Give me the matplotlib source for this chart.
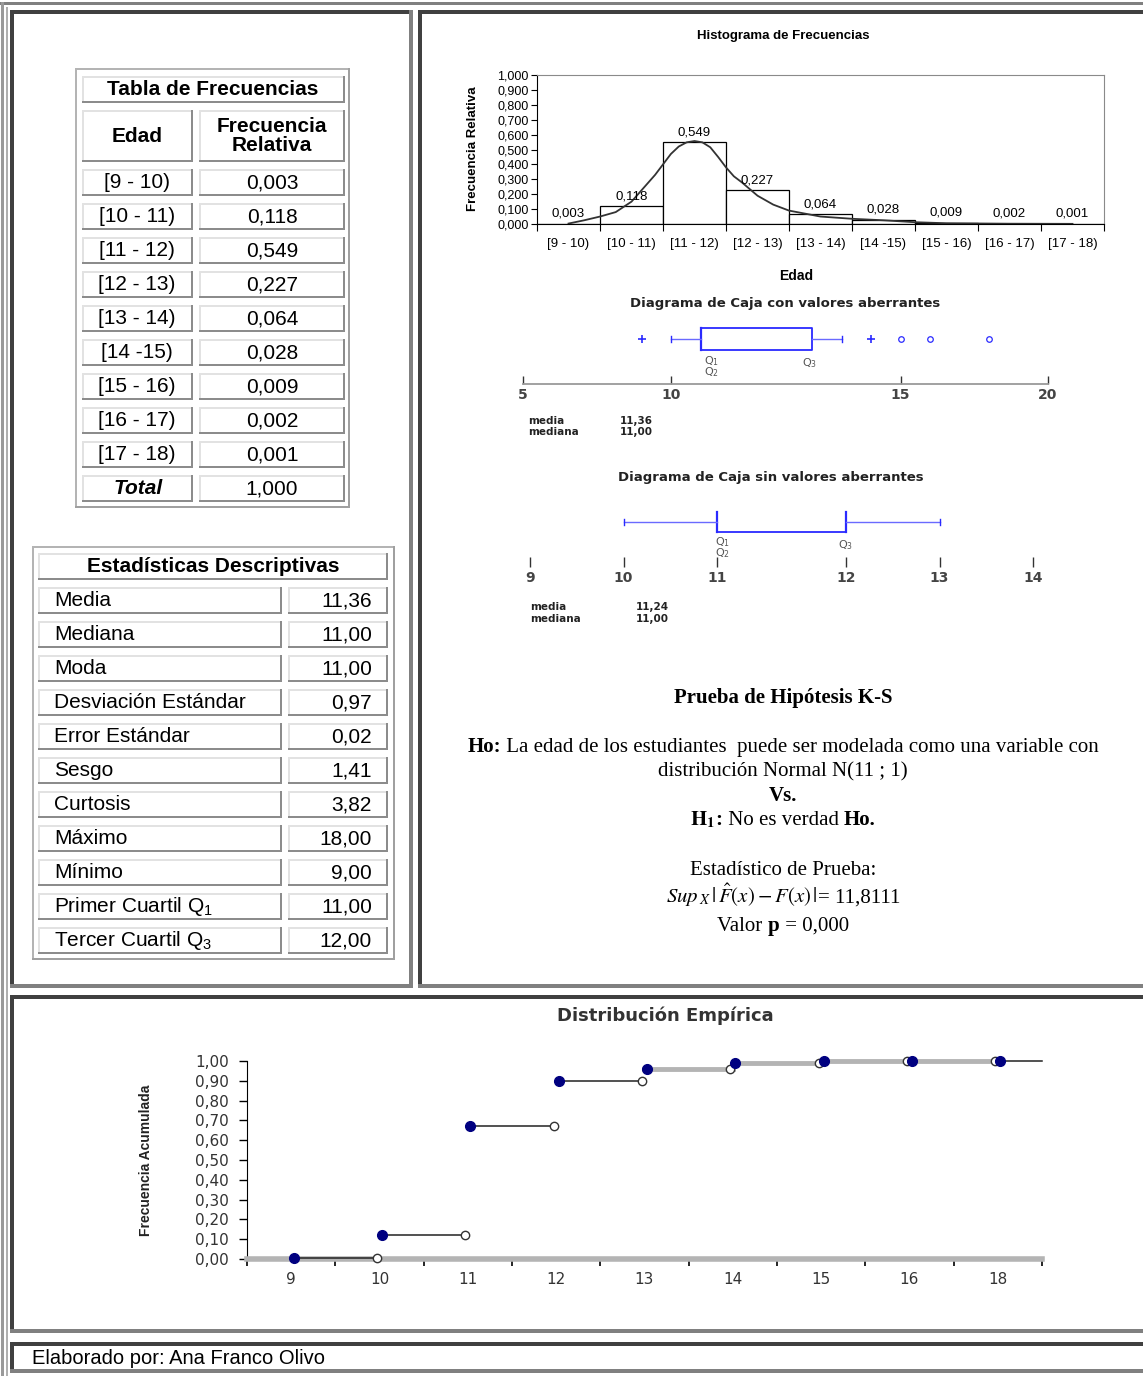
import matplotlib
matplotlib.use('Agg')
import matplotlib.pyplot as plt
from matplotlib.patches import Rectangle
from matplotlib import font_manager as fm
import numpy as np

W, H = 1143, 1376

# ---------------- data ----------------
edad_labels = ["[9 - 10)", "[10 - 11)", "[11 - 12)", "[12 - 13)", "[13 - 14)",
               "[14 -15)", "[15 - 16)", "[16 - 17)", "[17 - 18)"]
frec_rel = [0.003, 0.118, 0.549, 0.227, 0.064, 0.028, 0.009, 0.002, 0.001]
frec_total = 1.000

stat_names = ["Media", "Mediana", "Moda", "Desviación Estándar", "Error Estándar",
              "Sesgo", "Curtosis", "Máximo", "Mínimo",
              r"Primer Cuartil $\mathrm{Q}_1$", r"Tercer Cuartil $\mathrm{Q}_3$"]
stat_values = [11.36, 11.00, 11.00, 0.97, 0.02, 1.41, 3.82, 18.00, 9.00, 11.00, 12.00]

# smoothed curve over the histogram (category units)
curve_x = [0.5, 0.75, 1.0, 1.25, 1.5, 1.75, 1.875, 2.0, 2.125, 2.25, 2.375, 2.5,
           2.625, 2.75, 2.875, 3.0, 3.125, 3.25, 3.5, 3.75, 4.0, 4.5, 5.0, 5.5,
           6.0, 6.5, 7.5, 8.5]
curve_y = [0.003, 0.025, 0.05, 0.08, 0.15, 0.27, 0.33, 0.40, 0.47, 0.52, 0.548, 0.557,
           0.548, 0.515, 0.45, 0.38, 0.32, 0.28, 0.19, 0.13, 0.09, 0.05, 0.035, 0.025,
           0.012, 0.005, 0.002, 0.001]

# box plot with outliers
box1_q1, box1_med, box1_q3 = 11, 11, 12
box1_whis = [10, 13]
box1_mild = [9, 14]
box1_extreme = [15, 16, 18]
box1_media, box1_mediana = 11.36, 11.00

# box plot without outliers
box2_q1, box2_q3 = 11, 12
box2_whis = [10, 13]
box2_media, box2_mediana = 11.24, 11.00

# empirical distribution
ecdf_labels = ["9", "10", "11", "12", "13", "14", "15", "16", "18"]
ecdf_cum = [0.003, 0.121, 0.670, 0.897, 0.961, 0.989, 0.998, 1.000, 1.000]

ks_stat = "11,8111"
ks_p = "0,000"


def coma(v, d):
    return f"{v:.{d}f}".replace('.', ',')


def has_font(name):
    try:
        fm.findfont(fm.FontProperties(family=name), fallback_to_default=False)
        return True
    except ValueError:
        return False


NARROW = 'Liberation Sans Narrow' if has_font('Liberation Sans Narrow') else 'Liberation Sans'
WIDE = 'DejaVu Sans'

plt.rcParams['font.family'] = ['Liberation Sans', 'DejaVu Sans']
plt.rcParams['mathtext.fontset'] = 'custom'
plt.rcParams['mathtext.rm'] = 'Liberation Sans'
plt.rcParams['mathtext.it'] = 'Liberation Sans:italic'
plt.rcParams['mathtext.bf'] = 'Liberation Sans:bold'

DARK = '#404040'
GRAY = '#808080'
BLUE = '#2a2aff'
NAVY = '#000080'

fig = plt.figure(figsize=(W / 100, H / 100), dpi=100)
bg = fig.add_axes([0, 0, 1, 1])
bg.set_xlim(0, W)
bg.set_ylim(H, 0)
bg.axis('off')


def px_axes(x0, y0, x1, y1):
    a = fig.add_axes([x0 / W, 1 - y1 / H, (x1 - x0) / W, (y1 - y0) / H])
    a.set_facecolor('none')
    return a


def band(x0, y0, x1, y1, color):
    bg.add_patch(Rectangle((x0, y0), x1 - x0, y1 - y0, facecolor=color, edgecolor='none', lw=0))


def bevel(x0, y0, x1, y1, tl, br, t):
    band(x0, y0, x1, y0 + t, tl)
    band(x0, y0, x0 + t, y1, tl)
    band(x0, y1 - t, x1, y1, br)
    band(x1 - t, y0, x1, y1, br)


def cell(x0, y0, x1, y1):
    bevel(x0, y0, x1, y1, '#e2e2e2', '#8c8c8c', 2)


def rich(cx, y, parts, size, family='Liberation Serif'):
    # several text pieces on one baseline, centred on cx
    r = fig.canvas.get_renderer()
    items = []
    x = 0.0
    for s, kw in parts:
        t = bg.text(0, y, s, ha='left', va='baseline', fontsize=size, family=family, **kw)
        items.append((t, x))
        x += t.get_window_extent(r).width
    start = cx - x / 2
    for t, off in items:
        t.set_x(start + off)


def stretch_scale(vals, pos):
    vals = list(vals)
    pos = list(pos)
    s0 = (pos[1] - pos[0]) / (vals[1] - vals[0])
    s1 = (pos[-1] - pos[-2]) / (vals[-1] - vals[-2])
    vals = [vals[0] - 1000] + vals + [vals[-1] + 1000]
    pos = [pos[0] - 1000 * s0] + pos + [pos[-1] + 1000 * s1]
    return (lambda x: np.interp(x, vals, pos)), (lambda p: np.interp(p, pos, vals))


# ---------------- panel frames ----------------
band(0, 2, W, 5, GRAY)
band(1, 2, 4, H, '#9a9a9a')
band(6, 7, 8, H, '#b0b0b0')
bevel(10, 10, 413, 988, DARK, GRAY, 4)
bevel(418, 10, W + 10, 988, DARK, GRAY, 4)
bevel(10, 995, W + 10, 1333, DARK, GRAY, 4)
bevel(10, 1342, W + 10, 1373, DARK, GRAY, 4)

# ---------------- frequency table ----------------
bevel(75, 68, 350, 508, '#b4b4b4', '#a0a0a0', 2)
cell(82, 76, 345, 103)
bg.text(213, 89.5, "Tabla de Frecuencias", ha='center', va='center', fontsize=15, weight='bold')
cell(82, 110, 193, 162)
cell(199, 110, 345, 162)
bg.text(137, 136, "Edad", ha='center', va='center', fontsize=15, weight='bold')
bg.text(272, 136, "Frecuencia\nRelativa", ha='center', va='center', fontsize=15,
        weight='bold', linespacing=1.05)
rows = list(zip(edad_labels, [coma(v, 3) for v in frec_rel])) + [("Total", coma(frec_total, 3))]
for i, (lab, val) in enumerate(rows):
    y0 = 169 + 34 * i
    cell(82, y0, 193, y0 + 27)
    cell(199, y0, 345, y0 + 27)
    if lab == "Total":
        bg.text(138, y0 + 14, lab, ha='center', va='center', fontsize=15, weight='bold', style='italic')
    else:
        bg.text(137, y0 + 14, lab, ha='center', va='center', fontsize=15)
    bg.text(272, y0 + 14, val, ha='center', va='center', fontsize=15)

# ---------------- descriptive stats table ----------------
bevel(32, 546, 395, 960, '#b4b4b4', '#a0a0a0', 2)
cell(38, 553, 388, 580)
bg.text(213, 567, "Estadísticas Descriptivas", ha='center', va='center', fontsize=15, weight='bold')
for i, (name, val) in enumerate(zip(stat_names, stat_values)):
    y0 = 587 + 34 * i
    cell(38, y0, 282, y0 + 27)
    cell(288, y0, 388, y0 + 27)
    bg.text(54, y0 + 14, name, ha='left', va='center', fontsize=15)
    bg.text(372, y0 + 14, coma(val, 2), ha='right', va='center', fontsize=15)

# ---------------- histogram ----------------
bg.text(783, 36, "Histograma de Frecuencias", ha='center', va='center', fontsize=9.5,
        weight='bold', family=NARROW)
bg.text(473, 149, "Frecuencia Relativa", ha='center', va='center', rotation=90,
        fontsize=9.5, weight='bold', family='Liberation Sans')
bg.text(796, 276, "Edad", ha='center', va='center', fontsize=10, weight='bold', family=NARROW)

axh = px_axes(537, 75, 1104, 224)
pos = np.arange(len(frec_rel)) + 0.5
axh.bar(pos, frec_rel, width=1.0, facecolor='white', edgecolor='black', linewidth=0.9)
axh.plot(curve_x, curve_y, color='#333333', lw=1.3)
for x, v in zip(pos, frec_rel):
    axh.annotate(coma(v, 3), (x, v), xytext=(0, 3), textcoords='offset points',
                 ha='center', va='bottom', fontsize=9.5, family=NARROW)
axh.set_xlim(0, len(frec_rel))
axh.set_ylim(0, 1)
axh.set_yticks(np.arange(0, 1.01, 0.1))
axh.set_yticklabels([coma(v, 3) for v in np.arange(0, 1.01, 0.1)], fontsize=9, family=NARROW)
axh.set_xticks(np.arange(0, len(frec_rel) + 1))
axh.set_xticklabels([])
axh.set_xticks(pos, minor=True)
axh.set_xticklabels(edad_labels, minor=True, fontsize=9.5, family=NARROW)
axh.tick_params(axis='x', which='major', direction='out', length=5, width=0.8)
axh.tick_params(axis='x', which='minor', length=0, pad=10)
axh.tick_params(axis='y', direction='out', length=4, width=0.8, pad=2)
for s in ['top', 'right']:
    axh.spines[s].set_color('#8a8a8a')
for s in ['left', 'bottom']:
    axh.spines[s].set_color('black')

# ---------------- box plot with outliers ----------------
bg.text(785, 303, "Diagrama de Caja con valores aberrantes", ha='center', va='center',
        fontsize=9.5, weight='bold', family=WIDE, color='#222222')
ax1 = px_axes(523, 294, 1048, 384)
f1, i1 = stretch_scale([5, 11, 12, 20], [0, 178, 289, 525])
ax1.set_xscale('function', functions=(f1, i1))
ax1.set_xlim(5, 20)
ax1.set_ylim(-1, 1)
h1 = 0.236
ax1.plot([box1_q1, box1_q3, box1_q3, box1_q1, box1_q1], [-h1, -h1, h1, h1, -h1], color=BLUE, lw=1.3)
ax1.plot([box1_med, box1_med], [-h1, h1], color=BLUE, lw=1.6)
ax1.plot([box1_whis[0], box1_q1], [0, 0], color='#6a6aff', lw=1.0)
ax1.plot([box1_q3, box1_whis[1]], [0, 0], color='#6a6aff', lw=1.0)
for w in box1_whis:
    ax1.plot([w, w], [-0.07, 0.07], color=BLUE, lw=1.0)
ax1.plot(box1_mild, [0] * len(box1_mild), '+', color=BLUE, ms=6, mew=1.2, clip_on=False)
ax1.plot(box1_extreme, [0] * len(box1_extreme), 'o', mfc='none', mec=BLUE, ms=4, mew=0.9, clip_on=False)
qkw = dict(textcoords='offset points', va='top', fontsize=8, color='#555555', family=WIDE,
           math_fontfamily='dejavusans')
ax1.annotate(r"Q$_1$", (box1_q1, -h1), xytext=(2, -3), ha='left', **qkw)
ax1.annotate(r"Q$_2$", (box1_q1, -h1), xytext=(2, -11), ha='left', **qkw)
ax1.annotate(r"Q$_3$", (box1_q3, -h1), xytext=(-2, -4.5), ha='center', **qkw)
ax1.set_xticks([5, 10, 15, 20])
ax1.set_xticklabels(["5", "10", "15", "20"], fontsize=10, family=WIDE, weight='bold', color='#444444')
ax1.tick_params(axis='x', direction='in', length=6, width=1.0, color='#333333', pad=3)
ax1.set_yticks([])
for s in ['left', 'top', 'right']:
    ax1.spines[s].set_visible(False)
ax1.spines['bottom'].set_color('#9a9a9a')
ax1.spines['bottom'].set_linewidth(1.3)
mkw = dict(ha='left', va='center', fontsize=7.5, weight='bold', family=WIDE, color='#222222')
bg.text(528, 421, "media", **mkw)
bg.text(528, 432, "mediana", **mkw)
bg.text(620, 421, coma(box1_media, 2), **mkw)
bg.text(620, 432, coma(box1_mediana, 2), **mkw)

# ---------------- box plot without outliers ----------------
bg.text(771, 478, "Diagrama de Caja sin valores aberrantes", ha='center', va='center',
        fontsize=9.5, weight='bold', family=WIDE, color='#222222')
ax2 = px_axes(530, 477, 1033, 567)
f2, i2 = stretch_scale([9, 11, 12, 14], [0, 187, 316, 503])
ax2.set_xscale('function', functions=(f2, i2))
ax2.set_xlim(9, 14)
ax2.set_ylim(-1, 1)
h2 = 0.233
ax2.plot([box2_q1, box2_q1], [-h2, h2], color=BLUE, lw=1.6)
ax2.plot([box2_q3, box2_q3], [-h2, h2], color=BLUE, lw=1.6)
ax2.plot([box2_q1, box2_q3], [-h2, -h2], color=BLUE, lw=1.3)
ax2.plot([box2_whis[0], box2_q1], [0, 0], color='#6a6aff', lw=1.0)
ax2.plot([box2_q3, box2_whis[1]], [0, 0], color='#6a6aff', lw=1.0)
for w in box2_whis:
    ax2.plot([w, w], [-0.06, 0.06], color=BLUE, lw=1.0)
ax2.annotate(r"Q$_1$", (box2_q1, -h2), xytext=(4, -2), ha='center', **qkw)
ax2.annotate(r"Q$_2$", (box2_q1, -h2), xytext=(4, -10), ha='center', **qkw)
ax2.annotate(r"Q$_3$", (box2_q3, -h2), xytext=(0, -4), ha='center', **qkw)
ax2.set_xticks([9, 10, 11, 12, 13, 14])
ax2.set_xticklabels(["9", "10", "11", "12", "13", "14"], fontsize=10, family=WIDE, weight='bold', color='#444444')
ax2.tick_params(axis='x', direction='in', length=7, width=1.0, color='#333333', pad=3)
ax2.set_yticks([])
for s in ax2.spines.values():
    s.set_visible(False)
bg.text(530, 607, "media", **mkw)
bg.text(530, 619, "mediana", **mkw)
bg.text(636, 607, coma(box2_media, 2), **mkw)
bg.text(636, 619, coma(box2_mediana, 2), **mkw)

# ---------------- K-S test text ----------------
rich(783, 703, [("Prueba de Hipótesis K-S", dict(weight='bold'))], 15)
rich(783, 752, [("Ho:", dict(weight='bold')),
                (" La edad de los estudiantes  puede ser modelada como una variable con", {})], 15)
rich(783, 776, [("distribución Normal N(11 ; 1)", {})], 15)
rich(783, 801, [("Vs.", dict(weight='bold'))], 15)
rich(783, 825, [(r"$\mathbf{H}_\mathbf{1}$", dict(math_fontfamily='stix')),
                (":", dict(weight='bold')),
                (" No es verdad ", {}),
                ("Ho.", dict(weight='bold'))], 15)
rich(783, 875, [("Estadístico de Prueba:", {})], 15)
rich(783, 903, [(r"$Sup_{\,X}\,|\,\hat{F}(x) - F(x)\,|$", dict(math_fontfamily='stix')),
                ("= " + ks_stat, {})], 15)
rich(783, 931, [("Valor ", {}), ("p", dict(weight='bold')), (" = " + ks_p, {})], 15)

# ---------------- empirical distribution ----------------
bg.text(665, 1016, "Distribución Empírica", ha='center', va='center', fontsize=13,
        weight='bold', family=WIDE, color='#333333')
bg.text(146, 1160, "Frecuencia Acumulada", ha='center', va='center', rotation=90,
        fontsize=10, weight='bold', family=NARROW, color='#222222')

axe = px_axes(247, 1061, 1042, 1259)
n = len(ecdf_cum)
for i in range(n - 1):
    if i < 4:
        axe.plot([i + 0.5, i + 1.5], [ecdf_cum[i]] * 2, color='#222222', lw=1.1, zorder=3, clip_on=False)
    else:
        axe.plot([i + 0.5, i + 1.5], [ecdf_cum[i]] * 2, color='#b4b4b4', lw=3.5, zorder=3, clip_on=False)
axe.plot([n - 0.5, n], [ecdf_cum[-1]] * 2, color='#222222', lw=1.1, zorder=3, clip_on=False)
axe.plot(np.arange(1, n) + 0.5 - 0.03, ecdf_cum[:-1], 'o', mfc='white', mec='#333333',
         ms=6, mew=1.0, zorder=4, clip_on=False)
axe.plot(np.arange(n) + 0.5 + 0.03, ecdf_cum, 'o', color=NAVY, ms=7, zorder=5, clip_on=False)
axe.set_xlim(0, n)
axe.set_ylim(0, 1)
yt = np.arange(0, 1.01, 0.1)
axe.set_yticks(yt)
axe.set_yticklabels([coma(v, 2) for v in yt], fontsize=11, family=WIDE, color='#333333')
axe.set_xticks(np.arange(0, n + 1))
axe.set_xticklabels([])
axe.set_xticks(np.arange(n) + 0.5, minor=True)
axe.set_xticklabels(ecdf_labels, minor=True, fontsize=11, family=WIDE, color='#333333')
axe.tick_params(axis='y', direction='out', length=6, width=1.0, pad=7)
axe.tick_params(axis='x', which='major', direction='out', length=5, width=1.2)
axe.tick_params(axis='x', which='minor', length=0, pad=9)
axe.spines['top'].set_visible(False)
axe.spines['right'].set_visible(False)
axe.spines['left'].set_color('black')
axe.spines['bottom'].set_color('#b4b4b4')
axe.spines['bottom'].set_linewidth(4)

# ---------------- footer ----------------
bg.text(32, 1358, "Elaborado por: Ana Franco Olivo", ha='left', va='center', fontsize=14.5)

fig.savefig('out.png', dpi=100)
